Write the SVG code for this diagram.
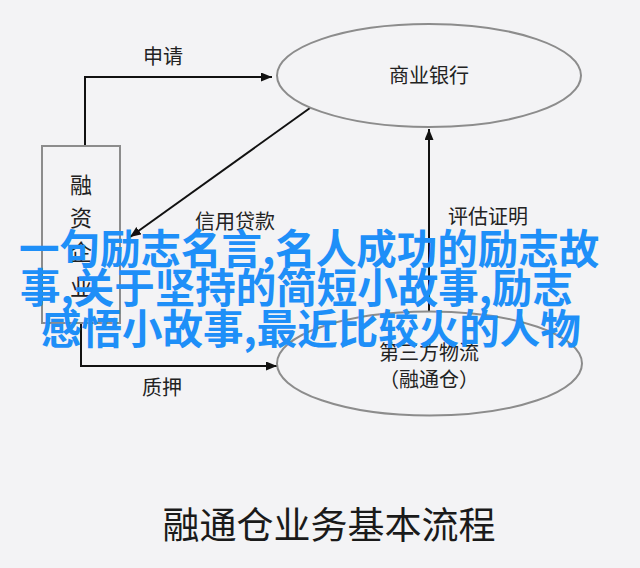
<svg xmlns="http://www.w3.org/2000/svg" width="640" height="568" viewBox="0 0 640 568">
  <defs>
    <style>
      .node { fill: none; stroke: #8c8c8c; stroke-width: 2; }
      .lbl { font-family: "Noto Sans CJK SC", "Noto Sans", sans-serif; font-size: 20px; fill: #222; text-anchor: middle; }
      .conn { fill: none; stroke: #111; stroke-width: 2; }
      .title { font-family: "Noto Sans CJK SC", "Noto Sans", sans-serif; font-size: 37px; fill: #1a1a1a; text-anchor: middle; }
      .wm { font-family: "Noto Sans CJK SC", "Noto Sans", sans-serif; font-size: 40.5px; font-weight: bold; fill: #1e8ff8; }
    </style>
    <marker id="arr" markerUnits="userSpaceOnUse" markerWidth="12" markerHeight="10" refX="11" refY="4.5" orient="auto">
      <path d="M0,0 L11,4.5 L0,9 z" fill="#111"/>
    </marker>
  </defs>
  <rect width="640" height="568" fill="#f3f3f5"/>

  <g id="connectors">
    <path class="conn" d="M85,146 V77 H272" marker-end="url(#arr)"/>
    <path class="conn" d="M310,108 L130,237" marker-end="url(#arr)"/>
    <path class="conn" d="M429,311 V129" marker-end="url(#arr)"/>
    <path class="conn" d="M81,323 V366 H277" marker-end="url(#arr)"/>
    <text class="lbl" x="163" y="64">申请</text>
    <text class="lbl" x="235" y="229">信用贷款</text>
    <text class="lbl" x="488" y="224">评估证明</text>
    <text class="lbl" x="162" y="395">质押</text>
  </g>

  <g id="node-enterprise">
    <rect class="node" x="42" y="146" width="78" height="177"/>
    <text class="lbl" style="font-size:22px" x="81" y="193">融</text>
    <text class="lbl" style="font-size:22px" x="81" y="226">资</text>
    <text class="lbl" style="font-size:22px" x="81" y="260">企</text>
    <text class="lbl" style="font-size:22px" x="81" y="295">业</text>
  </g>

  <g id="node-bank">
    <ellipse class="node" cx="429" cy="75.5" rx="152" ry="51.5"/>
    <text class="lbl" x="429" y="83">商业银行</text>
  </g>

  <g id="node-logistics">
    <ellipse class="node" cx="429.5" cy="363.5" rx="152.5" ry="52"/>
    <text class="lbl" x="429" y="360">第三方物流</text>
    <text class="lbl" x="429" y="387">（融通仓）</text>
  </g>

  <text class="title" x="329" y="539">融通仓业务基本流程</text>

  <g id="overlay">
    <text class="wm" x="19" y="264">一句励志名言,名人成功的励志故</text>
    <text class="wm" x="20" y="303">事,关于坚持的简短小故事,励志</text>
    <text class="wm" x="41" y="344">感悟小故事,最近比较火的人物</text>
  </g>
</svg>
